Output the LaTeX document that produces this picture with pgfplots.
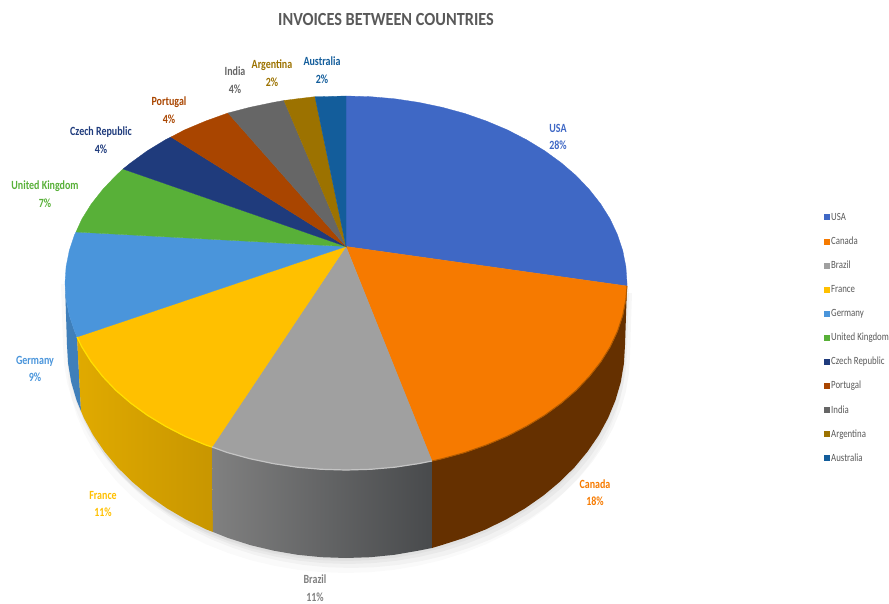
\documentclass[border=0pt]{standalone}
\usepackage{fontspec}
\setmainfont[FakeStretch=0.88]{Carlito}
\newfontfamily\labfont[FakeStretch=0.8]{Carlito}
\usepackage{pgfplots}
\usepackage{pgfplotstable}
\pgfplotsset{compat=1.18}

\definecolor{cusa}{HTML}{3F68C5}
\definecolor{ccanada}{HTML}{F67A00}
\definecolor{cbrazil}{HTML}{A0A0A0}
\definecolor{cfrance}{HTML}{FFC000}
\definecolor{cgermany}{HTML}{4A95DB}
\definecolor{cuk}{HTML}{58B038}
\definecolor{cczech}{HTML}{1F3B7C}
\definecolor{cportugal}{HTML}{A94500}
\definecolor{cindia}{HTML}{666666}
\definecolor{cargentina}{HTML}{9C7200}
\definecolor{caustralia}{HTML}{135D9B}
\definecolor{txt}{HTML}{595959}
\definecolor{FranceL}{HTML}{E0AA00}
\definecolor{FranceR}{HTML}{C89600}
\definecolor{BrazilL}{HTML}{808080}
\definecolor{BrazilR}{HTML}{484A4C}
\definecolor{CanadaS}{HTML}{653000}
\definecolor{FranceH}{HTML}{FFE000}
\definecolor{BrazilH}{HTML}{C4C4C4}
\definecolor{CanadaH}{HTML}{B05A00}

% lower outline of the pie, used for the soft shadow
\pgfplotstableread{
x y
627 283
625 345
623.9 363.6
620.8 382
615.5 400.1
608.2 417.8
598.9 435
587.6 451.5
574.6 467.2
559.7 481.9
543.3 495.6
525.3 508.2
506 519.5
485.5 529.5
463.9 538
441.4 545.2
418.2 550.7
394.4 554.8
370.3 557.2
346 558
321.7 557.2
297.6 554.8
273.8 550.7
250.6 545.2
228.1 538
206.5 529.5
186 519.5
166.7 508.2
148.7 495.6
132.3 481.9
117.4 467.2
104.4 451.5
93.1 435
83.8 417.8
76.5 400.1
71.2 382
68.1 363.6
67 345
65 283
}\outline

\newcommand{\lab}[4]{\node[text=#4,font=\labfont\bfseries\fontsize{12.5}{17.5}\selectfont,align=center] at (axis cs:#1,#2) {#3};}

\begin{document}
\begin{tikzpicture}
\path[use as bounding box,clip] (0,0) rectangle (889pt,604pt);
\begin{axis}[
  at={(0,0)},anchor=south west,
  width=889pt,height=604pt,scale only axis,
  xmin=0,xmax=889,ymin=0,ymax=604,y dir=reverse,
  hide axis,clip=false,no markers,
  legend style={draw=none,fill=none,at={(axis cs:824,211)},anchor=north west,
    font=\labfont\fontsize{11}{11}\selectfont,text=txt,row sep=11.6pt,
    inner sep=0pt,nodes={inner sep=1pt,text height=8pt,text depth=2.5pt}},
  legend cell align=left,
  legend image code/.code={\path[#1,draw=none] (0pt,-3pt) rectangle (6pt,3pt);},
]
% shadow
\addplot[forget plot,fill=black,fill opacity=0.035,draw=none,yshift=-3pt] table {\outline} --cycle;
\addplot[forget plot,fill=black,fill opacity=0.035,draw=none,xshift=2pt,yshift=-6pt] table {\outline} --cycle;
\addplot[forget plot,fill=black,fill opacity=0.03,draw=none,xshift=5pt,yshift=-10pt] table {\outline} --cycle;
\addplot[forget plot,fill=black,fill opacity=0.025,draw=none,xshift=-4pt,yshift=-1pt] table {\outline} --cycle;
\addplot[forget plot,fill=black,fill opacity=0.02,draw=none,yshift=-15pt] table {\outline} --cycle;

% side walls
\addplot[forget plot,draw=none,fill=cgermany!85!black] coordinates {
  (77,337) (74.6,331.4) (69.3,315.5) (66.1,299.3) (65,283) (67,345) (68.1,363.6) (71.2,382) (76.5,400.1) (81,411) } --cycle;
\addplot[forget plot,draw=none,left color=FranceL,right color=FranceR] coordinates {
  (212,447) (205.5,444.9) (184.8,436.2) (165.4,426.2) (147.3,415.2) (130.8,403.2) (115.8,390.3) (102.7,376.5) (91.3,362) (81.9,347) (77,337)
  (81,411) (83.8,417.8) (93.1,435) (104.4,451.5) (117.4,467.2) (132.3,481.9) (148.7,495.6) (166.7,508.2) (186,519.5) (206.5,529.5) (213,532) } --cycle;
\addplot[forget plot,draw=none,left color=BrazilL,right color=BrazilR] coordinates {
  (432,461) (418.7,463.6) (394.8,467.2) (370.5,469.3) (346,470) (321.5,469.3) (297.2,467.2) (273.3,463.6) (249.9,458.7) (227.2,452.5) (212,447)
  (213,532) (228.1,538) (250.6,545.2) (273.8,550.7) (297.6,554.8) (321.7,557.2) (346,558) (370.3,557.2) (394.4,554.8) (418.2,550.7) (432,548) } --cycle;
\addplot[forget plot,draw=none,fill=CanadaS] coordinates {
  (627,286) (625.9,299.3) (622.7,315.5) (617.4,331.4) (610.1,347) (600.7,362) (589.3,376.5) (576.2,390.3) (561.2,403.2) (544.7,415.2) (526.6,426.2) (507.2,436.2) (486.5,444.9) (464.8,452.5) (442.1,458.7) (432,461)
  (432,548) (441.4,545.2) (463.9,538) (485.5,529.5) (506,519.5) (525.3,508.2) (543.3,495.6) (559.7,481.9) (574.6,467.2) (587.6,451.5) (598.9,435) (608.2,417.8) (615.5,400.1) (620.8,382) (623.9,363.6) (625,345) } --cycle;

% top face, one wedge for each country
\addplot[draw=cusa,line width=0.3pt,fill=cusa] coordinates {
  (346,246.5) (346,96) (370.5,96.7) (394.8,98.8) (418.7,102.4) (442.1,107.3) (464.8,113.5) (486.5,121.1) (507.2,129.8) (526.6,139.8) (544.7,150.8) (561.2,162.8) (576.2,175.7) (589.3,189.5)
  (600.7,204) (610.1,219) (617.4,234.6) (622.7,250.5) (625.9,266.7) (627,283) (627,286) } --cycle;
\addlegendentry{USA}
\addplot[draw=ccanada,line width=0.3pt,fill=ccanada] coordinates {
  (346,246.5) (627,286) (625.9,299.3) (622.7,315.5) (617.4,331.4) (610.1,347) (600.7,362) (589.3,376.5) (576.2,390.3) (561.2,403.2) (544.7,415.2) (526.6,426.2) (507.2,436.2) (486.5,444.9)
  (464.8,452.5) (442.1,458.7) (432,461) } --cycle;
\addlegendentry{Canada}
\addplot[draw=cbrazil,line width=0.3pt,fill=cbrazil] coordinates {
  (346,246.5) (432,461) (418.7,463.6) (394.8,467.2) (370.5,469.3) (346,470) (321.5,469.3) (297.2,467.2) (273.3,463.6) (249.9,458.7) (227.2,452.5) (212,447) } --cycle;
\addlegendentry{Brazil}
\addplot[draw=cfrance,line width=0.3pt,fill=cfrance] coordinates {
  (346,246.5) (212,447) (205.5,444.9) (184.8,436.2) (165.4,426.2) (147.3,415.2) (130.8,403.2) (115.8,390.3) (102.7,376.5) (91.3,362) (81.9,347) (77,337) } --cycle;
\addlegendentry{France}
\addplot[draw=cgermany,line width=0.3pt,fill=cgermany] coordinates {
  (346,246.5) (77,337) (74.6,331.4) (69.3,315.5) (66.1,299.3) (65,283) (66.1,266.7) (69.3,250.5) (74.6,234.6) (76,232) } --cycle;
\addlegendentry{Germany}
\addplot[draw=cuk,line width=0.3pt,fill=cuk] coordinates {
  (346,246.5) (76,232) (81.9,219) (91.3,204) (102.7,189.5) (115.8,175.7) (123,169) } --cycle;
\addlegendentry{United Kingdom}
\addplot[draw=cczech,line width=0.3pt,fill=cczech] coordinates {
  (346,246.5) (123,169) (130.8,162.8) (147.3,150.8) (165.4,139.8) (171,137) } --cycle;
\addlegendentry{Czech Republic}
\addplot[draw=cportugal,line width=0.3pt,fill=cportugal] coordinates {
  (346,246.5) (171,137) (184.8,129.8) (205.5,121.1) (228,113) } --cycle;
\addlegendentry{Portugal}
\addplot[draw=cindia,line width=0.3pt,fill=cindia] coordinates {
  (346,246.5) (228,113) (249.9,107.3) (273.3,102.4) (284,100.5) } --cycle;
\addlegendentry{India}
\addplot[draw=cargentina,line width=0.3pt,fill=cargentina] coordinates {
  (346,246.5) (284,100.5) (297.2,98.8) (315,96.7) } --cycle;
\addlegendentry{Argentina}
\addplot[draw=caustralia,line width=0.3pt,fill=caustralia] coordinates {
  (346,246.5) (315,96.7) (321.5,96.7) (346,96) } --cycle;
\addlegendentry{Australia}

% bevel highlights on the rim
\addplot[forget plot,draw=FranceH,line width=1.2pt] coordinates {
  (212,447) (205.5,444.9) (184.8,436.2) (165.4,426.2) (147.3,415.2) (130.8,403.2) (115.8,390.3) (102.7,376.5) (91.3,362) (81.9,347) (77,337) };
\addplot[forget plot,draw=BrazilH,line width=1.2pt] coordinates {
  (432,461) (418.7,463.6) (394.8,467.2) (370.5,469.3) (346,470) (321.5,469.3) (297.2,467.2) (273.3,463.6) (249.9,458.7) (227.2,452.5) (212,447) };
\addplot[forget plot,draw=CanadaH,line width=1pt] coordinates {
  (627,286) (625.9,299.3) (622.7,315.5) (617.4,331.4) (610.1,347) (600.7,362) (589.3,376.5) (576.2,390.3) (561.2,403.2) (544.7,415.2) (526.6,426.2) (507.2,436.2) (486.5,444.9) (464.8,452.5) (442.1,458.7) (432,461) };

% title and labels
\node[text=txt,font=\bfseries\fontsize{18.5}{20}\selectfont] at (axis cs:386,20) {INVOICES BETWEEN COUNTRIES};
\lab{558}{137}{USA\\28\%}{cusa}
\lab{595}{492.5}{Canada\\18\%}{ccanada}
\lab{315}{588}{Brazil\\11\%}{gray}
\lab{103}{504}{France\\11\%}{cfrance}
\lab{35}{369}{Germany\\9\%}{cgermany}
\lab{45}{194}{United Kingdom\\7\%}{cuk}
\lab{101}{140}{Czech Republic\\4\%}{cczech}
\lab{169}{110}{Portugal\\4\%}{cportugal}
\lab{235}{80}{India\\4\%}{cindia}
\lab{272}{73}{Argentina\\2\%}{cargentina}
\lab{322}{70}{Australia\\2\%}{caustralia}
\end{axis}
\end{tikzpicture}
\end{document}
